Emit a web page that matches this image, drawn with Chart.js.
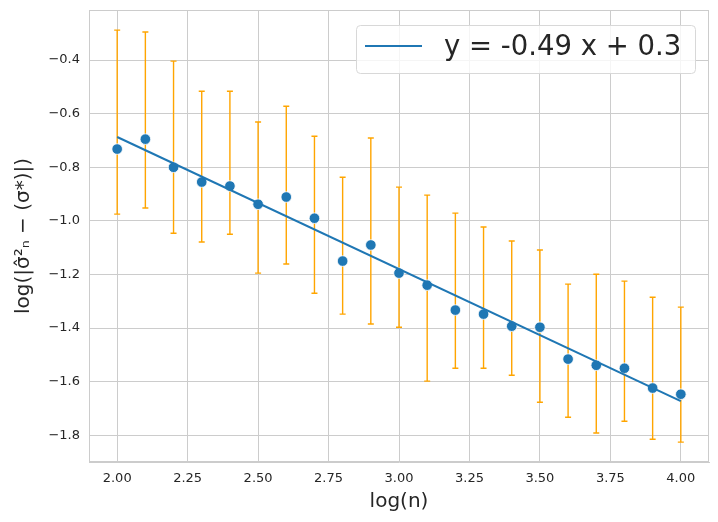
<!DOCTYPE html>
<html>
<head>
<meta charset="utf-8">
<script src="https://cdn.jsdelivr.net/npm/chart.js@4.4.0/dist/chart.umd.min.js"></script>
<style>
  body { margin: 0; background: #fff; }
  canvas { display: block; }
</style>
</head>
<body>
<canvas id="chart" width="718" height="522"></canvas>
<script>
// data
const logN = [2.0, 2.1, 2.2, 2.3, 2.4, 2.5, 2.6, 2.7, 2.8, 2.9, 3.0, 3.1, 3.2, 3.3, 3.4, 3.5, 3.6, 3.7, 3.8, 3.9, 4.0];
const logErr = [-0.732, -0.695, -0.800, -0.855, -0.870, -0.938, -0.911, -0.990, -1.150, -1.090, -1.195, -1.240, -1.333, -1.348, -1.393, -1.397, -1.516, -1.539, -1.550, -1.624, -1.647];
const errTop = [-0.288, -0.295, -0.404, -0.516, -0.516, -0.631, -0.572, -0.684, -0.837, -0.691, -0.874, -0.904, -0.971, -1.023, -1.075, -1.109, -1.236, -1.199, -1.225, -1.285, -1.322];
const errBottom = [-0.975, -0.952, -1.046, -1.079, -1.050, -1.195, -1.161, -1.270, -1.348, -1.385, -1.397, -1.598, -1.550, -1.550, -1.576, -1.677, -1.733, -1.792, -1.748, -1.815, -1.826];
const fitX = [2.0, 4.0];
const fitY = [-0.687, -1.673];
const fitLabel = 'y = -0.49 x + 0.3';
const xTicks = [2.0, 2.25, 2.5, 2.75, 3.0, 3.25, 3.5, 3.75, 4.0];
const yTicks = [-0.4, -0.6, -0.8, -1.0, -1.2, -1.4, -1.6, -1.8];

const blue = '#1f77b4';
const orange = '#ffa500';
const gridColor = '#cccccc';
const textColor = '#262626';

// error bars drawn behind the points, plus the frame
const errorBars = {
  id: 'errorBars',
  beforeDatasetsDraw(chart) {
    const ctx = chart.ctx;
    const xs = chart.scales.x, ys = chart.scales.y;
    const a = chart.chartArea;
    ctx.save();
    ctx.strokeStyle = gridColor;
    ctx.lineWidth = 1;
    ctx.strokeRect(Math.round(a.left) + 0.5, Math.round(a.top) + 0.5, Math.round(a.right - a.left) - 1, Math.round(a.bottom - a.top) - 1);
    ctx.strokeStyle = orange;
    ctx.lineWidth = 1.4;
    for (let i = 0; i < logN.length; i++) {
      const x = xs.getPixelForValue(logN[i]);
      const t = ys.getPixelForValue(errTop[i]);
      const b = ys.getPixelForValue(errBottom[i]);
      ctx.beginPath();
      ctx.moveTo(x, t); ctx.lineTo(x, b);
      ctx.moveTo(x - 3, t); ctx.lineTo(x + 3, t);
      ctx.moveTo(x - 3, b); ctx.lineTo(x + 3, b);
      ctx.stroke();
    }
    ctx.restore();
  }
};

// matplotlib style legend box
const legendBox = {
  id: 'legendBox',
  afterDraw(chart) {
    const ctx = chart.ctx;
    ctx.save();
    const x0 = 356, y0 = 25, w = 339, h = 48;
    ctx.fillStyle = 'rgba(255,255,255,0.8)';
    ctx.strokeStyle = '#d8d8d8';
    ctx.lineWidth = 1;
    ctx.beginPath();
    ctx.roundRect(x0 + 0.5, y0 + 0.5, w, h, 4);
    ctx.fill();
    ctx.stroke();
    ctx.strokeStyle = blue;
    ctx.lineWidth = 2;
    ctx.beginPath();
    ctx.moveTo(365, 46); ctx.lineTo(422, 46);
    ctx.stroke();
    ctx.fillStyle = textColor;
    ctx.font = '27.5px "DejaVu Sans"';
    ctx.textBaseline = 'middle';
    ctx.fillText(chart.data.datasets[1].label, 444, 48);
    ctx.restore();
  }
};

new Chart(document.getElementById('chart'), {
  type: 'scatter',
  data: {
    datasets: [{
      label: 'points',
      data: logN.map((x, i) => ({ x: x, y: logErr[i] })),
      backgroundColor: blue,
      borderColor: '#ffffff',
      borderWidth: 0.8,
      pointRadius: 5.3,
      order: 2
    }, {
      label: fitLabel,
      type: 'line',
      data: fitX.map((x, i) => ({ x: x, y: fitY[i] })),
      borderColor: blue,
      borderWidth: 2,
      pointRadius: 0,
      fill: false,
      order: 1
    }]
  },
  plugins: [errorBars, legendBox],
  options: {
    responsive: false,
    animation: false,
    devicePixelRatio: 1,
    layout: { padding: { top: 10, right: 9, left: 0, bottom: 0 } },
    plugins: {
      legend: { display: false },
      tooltip: { enabled: false }
    },
    scales: {
      x: {
        type: 'linear',
        min: 1.9,
        max: 4.1,
        afterBuildTicks(scale) { scale.ticks = xTicks.map(v => ({ value: v })); },
        afterFit(scale) { scale.height = 60; scale.paddingLeft = 0; scale.paddingRight = 0; },
        grid: { color: gridColor, drawTicks: false },
        border: { color: gridColor },
        ticks: {
          color: textColor,
          font: { family: 'DejaVu Sans', size: 13 },
          padding: 9,
          maxRotation: 0,
          callback: v => v.toFixed(2)
        },
        title: {
          display: true,
          text: 'log(n)',
          color: textColor,
          font: { family: 'DejaVu Sans', size: 20 },
          padding: { top: 2, bottom: 8 }
        }
      },
      y: {
        min: -1.9,
        max: -0.213,
        afterBuildTicks(scale) { scale.ticks = yTicks.map(v => ({ value: v })); },
        afterFit(scale) { scale.width = 89; scale.paddingTop = 0; scale.paddingBottom = 0; },
        grid: { color: gridColor, drawTicks: false },
        border: { color: gridColor },
        ticks: {
          color: textColor,
          font: { family: 'DejaVu Sans', size: 13 },
          padding: 9,
          callback: v => v.toFixed(1).replace('-', '\u2212')
        },
        title: {
          display: true,
          text: 'log(|\u03C3\u0302\u00B2\u2099 \u2212 (\u03C3*)|)',
          color: textColor,
          font: { family: 'DejaVu Sans', size: 20 },
          padding: { top: 12, bottom: 4 }
        }
      }
    }
  }
});
</script>
</body>
</html>
